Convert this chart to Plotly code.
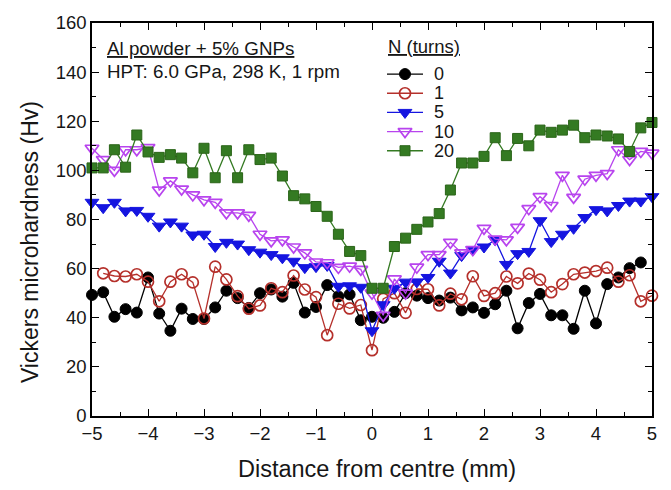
import plotly.graph_objects as go

x_all = [round(-5 + 0.2 * i, 1) for i in range(51)]

hv_0 = [49.3, 50.4, 40.4, 43.5, 42.1, 56.4, 41.7, 34.7, 43.7, 39.5,
        39.5, 44.2, 51.0, 48.0, 44.0, 50.0, 51.5, 48.6, 54.2, 42.1,
        44.4, 53.3, 48.7, 49.5, 39.0, 40.4, 40.0, 42.4, 50.0, 49.0,
        48.0, 47.0, 48.2, 43.0, 44.2, 42.0, 45.5, 51.0, 35.7, 46.0,
        49.7, 41.0, 41.0, 35.5, 51.0, 37.7, 53.7, 56.4, 60.2, 62.5]
x_0 = x_all[:50]

hv_1 = [58.1, 57.0, 56.8, 57.7, 54.7, 46.7, 54.7, 57.7, 54.4, 39.7,
        60.8, 55.6, 48.8, 43.7, 45.0, 52.0, 50.4, 57.2, 51.5, 48.4,
        32.9, 45.7, 43.8, 45.2, 26.8, 47.7, 50.0, 42.0, 51.7, 51.6,
        45.0, 49.8, 47.5, 56.9, 48.9, 50.0, 56.8, 54.0, 58.0, 55.5,
        50.4, 53.7, 57.7, 58.4, 59.0, 60.4, 54.7, 57.3, 46.7, 49.0]
x_1 = x_all[1:]

hv_5 = [87.0, 84.8, 87.0, 83.5, 83.7, 81.3, 77.3, 79.0, 77.3, 73.7,
        74.0, 69.0, 70.7, 70.0, 67.7, 66.7, 65.7, 64.4, 63.0, 60.4,
        60.8, 61.3, 52.8, 53.0, 52.4, 34.7, 45.3, 52.0, 54.5, 54.6,
        56.4, 63.0, 58.2, 65.3, 67.7, 68.8, 71.7, 61.7, 66.1, 67.0,
        79.5, 71.0, 74.0, 76.4, 80.8, 84.0, 83.5, 85.7, 87.5, 87.5, 89.3]

hv_10 = [109.0, 104.4, 100.0, 108.4, 108.4, 109.3, 92.0, 95.7, 92.4, 90.0,
         88.0, 87.0, 82.7, 82.7, 81.7, 74.0, 71.3, 71.7, 68.8, 66.4,
         62.7, 62.4, 60.5, 61.0, 59.7, 50.0, 41.0, 55.8, 50.0, 60.6,
         65.7, 65.7, 70.7, 66.4, 67.7, 76.4, 72.0, 71.7, 76.8, 84.4,
         89.3, 85.7, 98.0, 89.0, 96.4, 98.0, 98.7, 108.4, 104.4, 107.7, 107.0]

hv_20 = [101.0, 101.0, 108.4, 101.3, 114.4, 107.5, 105.3, 106.4, 105.0, 99.0,
         109.0, 97.0, 108.0, 97.0, 108.4, 104.4, 105.0, 97.7, 89.7, 88.4,
         85.3, 81.3, 74.0, 67.0, 65.3, 52.0, 52.0, 69.0, 72.4, 76.0,
         79.0, 82.4, 92.0, 103.0, 103.0, 105.7, 113.3, 106.0, 113.0, 110.0,
         116.4, 115.5, 116.4, 118.4, 113.3, 114.4, 114.0, 112.8, 107.7, 117.3, 119.5]

legend_names = ["0", "1", "5", "10", "20"]
x_title = "Distance from centre (mm)"
y_title = "Vickers microhardness (Hv)"

FONT = "Arial, Liberation Sans, sans-serif"
TXT = "#161616"

styles = [
    ("#000000", dict(symbol="circle", size=11, color="#000000", line=dict(color="#000000", width=1))),
    ("#b5302b", dict(symbol="circle-open", size=11, color="#b5302b", line=dict(color="#b5302b", width=1.7))),
    ("#1515e0", dict(symbol="triangle-down", size=12, color="#1515e0", line=dict(color="#1515e0", width=1))),
    ("#b844ee", dict(symbol="triangle-down-open", size=12, color="#b844ee", line=dict(color="#b844ee", width=1.7))),
    ("#347a22", dict(symbol="square", size=10, color="#347a22", line=dict(color="#2a6418", width=1))),
]
data = [(x_0, hv_0), (x_1, hv_1), (x_all, hv_5), (x_all, hv_10), (x_all, hv_20)]

fig = go.Figure()
for (xs, ys), name, (col, mk) in zip(data, legend_names, styles):
    fig.add_trace(go.Scatter(x=xs, y=ys, name=name, mode="lines+markers", showlegend=False,
                             cliponaxis=False, line=dict(color=col, width=1.3), marker=mk))

# hand-drawn legend on an overlay axis measured in pixels of the plot box
leg_y = [68, 87.5, 107, 126.5, 146]
for ly, name, (col, mk) in zip(leg_y, legend_names, styles):
    fig.add_trace(go.Scatter(x=[387, 423], y=[ly, ly], mode="lines", xaxis="x2", yaxis="y2",
                             showlegend=False, hoverinfo="skip", cliponaxis=False,
                             line=dict(color=col, width=1.3)))
    fig.add_trace(go.Scatter(x=[405], y=[ly], mode="markers", xaxis="x2", yaxis="y2",
                             showlegend=False, hoverinfo="skip", cliponaxis=False, marker=mk))
    fig.add_annotation(x=432, y=ly, xref="x2", yref="y2", xanchor="left", yanchor="middle",
                       text=name, showarrow=False, font=dict(family=FONT, size=18, color=TXT))

fig.add_annotation(x=386, y=40, xref="x2", yref="y2", xanchor="left", yanchor="middle",
                   text="<u>N (turns)</u>", showarrow=False, font=dict(family=FONT, size=18.5, color=TXT))
fig.add_annotation(x=105, y=42, xref="x2", yref="y2", xanchor="left", yanchor="middle",
                   text="<u>Al powder + 5% GNPs</u>", showarrow=False,
                   font=dict(family=FONT, size=18.8, color=TXT))
fig.add_annotation(x=105, y=65, xref="x2", yref="y2", xanchor="left", yanchor="middle",
                   text="HPT: 6.0 GPa, 298 K, 1 rpm", showarrow=False,
                   font=dict(family=FONT, size=18.8, color=TXT))
# axis titles (paper coordinates, outside the plot box)
fig.add_annotation(x=(377 - 92) / 560, y=(416 - 470) / 400, xref="paper", yref="paper",
                   xanchor="center", yanchor="middle",
                   text=x_title, showarrow=False, font=dict(family=FONT, size=23.5, color=TXT))
fig.add_annotation(x=(30 - 92) / 560, y=(416 - 239) / 400, xref="paper", yref="paper",
                   xanchor="center", yanchor="middle",
                   text=y_title, textangle=-90, showarrow=False,
                   font=dict(family=FONT, size=23, color=TXT))

axis_common = dict(showline=True, linecolor="black", linewidth=1.5, mirror="ticks",
                   ticks="inside", ticklen=7, tickwidth=1.3, tickcolor="black",
                   showgrid=False, zeroline=False,
                   tickfont=dict(family=FONT, size=18.5, color=TXT))

fig.update_layout(
    xaxis=dict(range=[-5, 5], dtick=1, tick0=-5,
               minor=dict(ticks="inside", dtick=0.5, ticklen=4, tickcolor="black", showgrid=False),
               **axis_common),
    yaxis=dict(range=[0, 160], dtick=20,
               minor=dict(ticks="inside", dtick=10, ticklen=4, tickcolor="black", showgrid=False),
               **axis_common),
    xaxis2=dict(overlaying="x", range=[92, 652], visible=False, fixedrange=True),
    yaxis2=dict(overlaying="y", range=[416, 16], visible=False, fixedrange=True),
    width=671, height=490,
    margin=dict(l=92, r=19, t=16, b=74),
    paper_bgcolor="white", plot_bgcolor="white",
    showlegend=False,
)

fig.write_html("out.html")
